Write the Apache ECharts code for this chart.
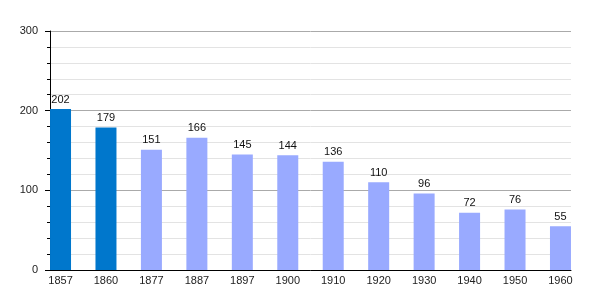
<!DOCTYPE html>
<html><head><meta charset="utf-8">
<script src="https://cdn.jsdelivr.net/npm/echarts@6/dist/echarts.min.js"></script>
<style>html,body{margin:0;padding:0;background:#fff}#c{width:600px;height:300px}</style>
</head><body><div id="c"></div>
<script>
const years = ['1857','1860','1877','1887','1897','1900','1910','1920','1930','1940','1950','1960'];
const population = [202,179,151,166,145,144,136,110,96,72,76,55];
const highlighted = ['1857','1860'];
const yTicks = [0,100,200,300];

const chart = echarts.init(document.getElementById('c'));
const font = 'Liberation Sans, Arial, sans-serif';
chart.setOption({
  animation:false,
  grid:[
    {left:50,right:29,top:31,bottom:30},
    {left:37.8,right:16.8,top:31,bottom:30}
  ],
  xAxis:[
    {gridIndex:0,type:'value',min:0,max:1,axisLine:{show:true,lineStyle:{color:'#000',width:1}},axisTick:{show:false},axisLabel:{show:false},splitLine:{show:false}},
    {gridIndex:1,type:'category',data:years,axisLine:{show:false},axisTick:{show:false},
     axisLabel:{color:'#222',fontSize:11,fontFamily:font,margin:5,interval:0}}
  ],
  yAxis:[
    {gridIndex:0,type:'value',min:yTicks[0],max:yTicks[yTicks.length-1],interval:100,
     axisLine:{show:true,lineStyle:{color:'#000',width:1}},
     axisTick:{show:true,length:5,lineStyle:{color:'#000'}},
     minorTick:{show:true,splitNumber:5,length:3,lineStyle:{color:'#000'}},
     axisLabel:{color:'#222',fontSize:11,fontFamily:font,margin:12},
     splitLine:{show:true,lineStyle:{color:'#aaa',width:1}},
     minorSplitLine:{show:true,lineStyle:{color:'#e3e3e3',width:1}}},
    {gridIndex:1,type:'value',min:0,max:300,show:false,splitLine:{show:false}}
  ],
  series:[{
    type:'bar',xAxisIndex:1,yAxisIndex:1,barWidth:21,
    data:population.map((v,i)=>({value:v,itemStyle:{color:highlighted.includes(years[i])?'#0077cc':'#99aaff'}})),
    label:{show:true,position:'top',distance:4,color:'#111',fontSize:11,fontFamily:font},
    z:3
  }]
});
</script></body></html>
